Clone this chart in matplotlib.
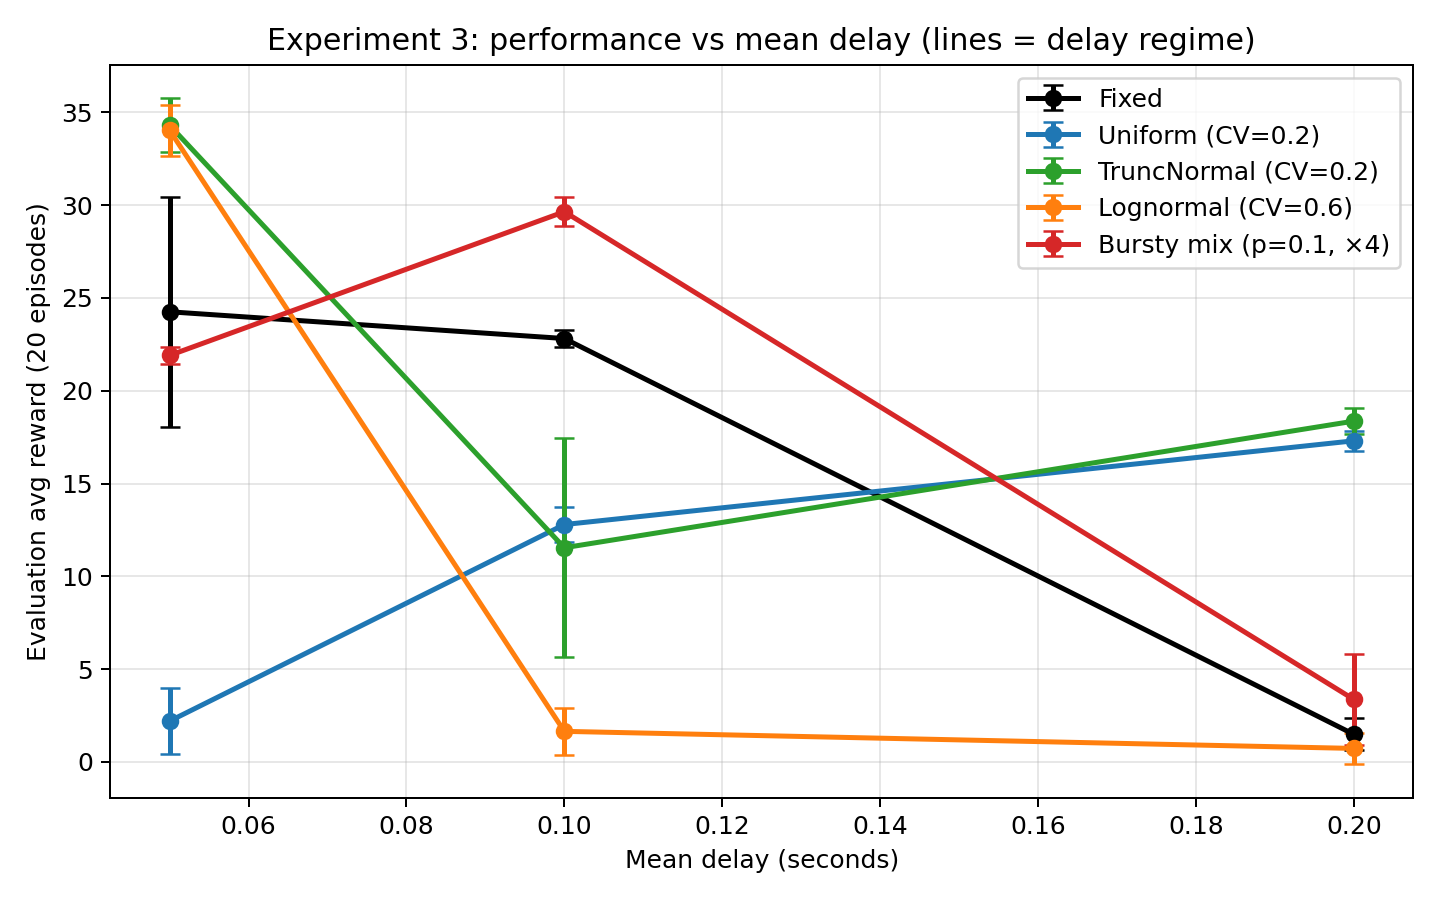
import matplotlib
matplotlib.use("Agg")
import matplotlib.pyplot as plt

mean_delay = [0.05, 0.10, 0.20]

labels = ["Fixed", "Uniform (CV=0.2)", "TruncNormal (CV=0.2)",
          "Lognormal (CV=0.6)", "Bursty mix (p=0.1, ×4)"]
colors = ["black", "#1f77b4", "#2ca02c", "#ff7f0e", "#d62728"]

fixed_mean = [24.25, 22.81, 1.49]
fixed_err = [6.2, 0.48, 0.86]
uniform_mean = [2.20, 12.79, 17.30]
uniform_err = [1.78, 0.95, 0.55]
trunc_mean = [34.30, 11.54, 18.36]
trunc_err = [1.45, 5.89, 0.70]
logn_mean = [34.03, 1.65, 0.73]
logn_err = [1.38, 1.25, 0.85]
bursty_mean = [21.90, 29.64, 3.37]
bursty_err = [0.46, 0.78, 2.47]

means = [fixed_mean, uniform_mean, trunc_mean, logn_mean, bursty_mean]
errs = [fixed_err, uniform_err, trunc_err, logn_err, bursty_err]

fig, ax = plt.subplots(figsize=(8, 5), dpi=180)
for lab, col, m, e in zip(labels, colors, means, errs):
    ax.errorbar(mean_delay, m, yerr=e, label=lab, color=col, marker="o",
                linewidth=2, capsize=4, markersize=6)

ax.set_title("Experiment 3: performance vs mean delay (lines = delay regime)")
ax.set_xlabel("Mean delay (seconds)")
ax.set_ylabel("Evaluation avg reward (20 episodes)")
ax.grid(True, alpha=0.3)
ax.legend(loc="upper right")
fig.tight_layout()
fig.savefig("out.png", dpi=180)
